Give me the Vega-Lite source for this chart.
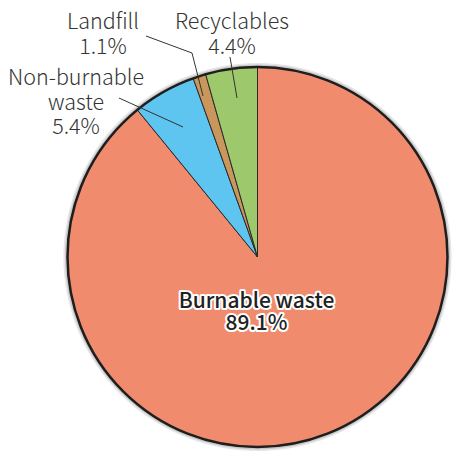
{
  "$schema": "https://vega.github.io/schema/vega-lite/v6.json",
  "width": 380,
  "height": 380,
  "autosize": "none",
  "padding": {"left": 67.5, "top": 67, "right": 8.5, "bottom": 8},
  "background": "white",
  "config": {"view": {"stroke": null}},
  "datasets": {
    "slices": [
      {"category": "Burnable waste", "value": 89.1},
      {"category": "Non-burnable waste", "value": 5.4},
      {"category": "Landfill", "value": 1.1},
      {"category": "Recyclables", "value": 4.4}
    ],
    "whole": [{"total": 100}],
    "labels": [
      {"text": "Landfill\n1.1%", "x": -154.5, "y": -228, "kind": "outer"},
      {"text": "Recyclables\n4.4%", "x": -25.5, "y": -228, "kind": "outer"},
      {"text": "Non-burnable\nwaste\n5.4%", "x": -181.5, "y": -172, "kind": "outer"},
      {"text": "Burnable waste\n89.1%", "x": -1, "y": 51, "kind": "inner"}
    ],
    "leaders": [
      {"x": -27.5, "y": -200, "x2": -20.5, "y2": -159},
      {"x": -111.5, "y": -221, "x2": -65.5, "y2": -204},
      {"x": -65.5, "y": -204, "x2": -54.5, "y2": -161},
      {"x": -138.5, "y": -159, "x2": -74.5, "y2": -130}
    ]
  },
  "resolve": {"scale": {"theta": "independent"}},
  "layer": [
    {
      "data": {"name": "whole"},
      "mark": {"type": "arc", "radius": 194, "fill": "#e6e6e6"},
      "encoding": {"theta": {"field": "total", "type": "quantitative"}}
    },
    {
      "data": {"name": "whole"},
      "mark": {"type": "arc", "radius": 192.5, "fill": "#c8c8c8"},
      "encoding": {"theta": {"field": "total", "type": "quantitative"}}
    },
    {
      "data": {"name": "slices"},
      "mark": {"type": "arc", "stroke": "#2a2a2a", "strokeWidth": 1},
      "encoding": {
        "theta": {"field": "value", "type": "quantitative", "stack": true},
        "order": {"field": "order", "type": "quantitative"},
        "color": {
          "field": "category",
          "type": "nominal",
          "sort": ["Burnable waste", "Non-burnable waste", "Landfill", "Recyclables"],
          "scale": {
            "domain": ["Burnable waste", "Non-burnable waste", "Landfill", "Recyclables"],
            "range": ["#F08B6E", "#5DC5F0", "#C9975B", "#9DC86C"]
          },
          "legend": null
        }
      }
    },
    {
      "data": {"name": "whole"},
      "mark": {"type": "arc", "fill": null, "stroke": "#1e1e1e", "strokeWidth": 2.5},
      "encoding": {"theta": {"field": "total", "type": "quantitative"}}
    },
    {
      "data": {"name": "leaders"},
      "mark": {"type": "rule", "color": "#333333", "strokeWidth": 1},
      "encoding": {
        "x": {"field": "x", "type": "quantitative", "scale": {"domain": [-190, 190]}, "axis": null},
        "y": {"field": "y", "type": "quantitative", "scale": {"domain": [-190, 190], "reverse": true}, "axis": null},
        "x2": {"field": "x2"},
        "y2": {"field": "y2"}
      }
    },
    {
      "data": {"name": "labels"},
      "transform": [{"filter": "datum.kind === 'outer'"}],
      "mark": {"type": "text", "font": "Noto Sans CJK JP", "fontWeight": 300, "fontSize": 21.5, "lineHeight": 24.5, "lineBreak": "\n", "align": "center", "baseline": "alphabetic", "color": "#333333"},
      "encoding": {
        "x": {"field": "x", "type": "quantitative", "scale": {"domain": [-190, 190]}, "axis": null},
        "y": {"field": "y", "type": "quantitative", "scale": {"domain": [-190, 190], "reverse": true}, "axis": null},
        "text": {"field": "text"}
      }
    },
    {
      "data": {"name": "labels"},
      "transform": [{"filter": "datum.kind === 'inner'"}],
      "mark": {"type": "text", "font": "Noto Sans CJK JP", "fontWeight": 500, "fontSize": 21, "lineHeight": 22, "lineBreak": "\n", "align": "center", "baseline": "alphabetic", "fill": "white", "stroke": "white", "strokeWidth": 4, "strokeJoin": "round"},
      "encoding": {
        "x": {"field": "x", "type": "quantitative", "scale": {"domain": [-190, 190]}, "axis": null},
        "y": {"field": "y", "type": "quantitative", "scale": {"domain": [-190, 190], "reverse": true}, "axis": null},
        "text": {"field": "text"}
      }
    },
    {
      "data": {"name": "labels"},
      "transform": [{"filter": "datum.kind === 'inner'"}],
      "mark": {"type": "text", "font": "Noto Sans CJK JP", "fontWeight": 500, "fontSize": 21, "lineHeight": 22, "lineBreak": "\n", "align": "center", "baseline": "alphabetic", "color": "#222222"},
      "encoding": {
        "x": {"field": "x", "type": "quantitative", "scale": {"domain": [-190, 190]}, "axis": null},
        "y": {"field": "y", "type": "quantitative", "scale": {"domain": [-190, 190], "reverse": true}, "axis": null},
        "text": {"field": "text"}
      }
    }
  ]
}
